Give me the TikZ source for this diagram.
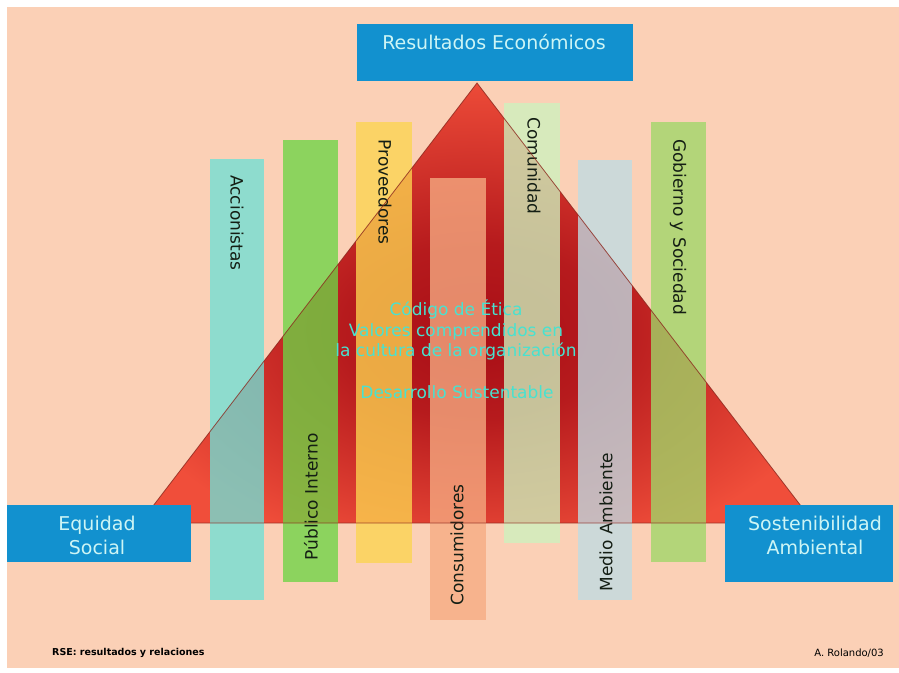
\documentclass[tikz,border=0pt]{standalone}
\usepackage{fontspec}
\setmainfont{DejaVu Sans}
\usepackage{tikz}
\usetikzlibrary{positioning,backgrounds}
\definecolor{peach}{RGB}{251,208,182}
\definecolor{boxblue}{RGB}{18,145,207}
\definecolor{boxtxt}{RGB}{205,245,245}
\definecolor{trired}{RGB}{240,78,58}
\definecolor{tridark}{RGB}{168,14,22}
\definecolor{triedge}{RGB}{140,40,30}
\definecolor{ethcyan}{RGB}{72,226,208}
\definecolor{labeldark}{RGB}{20,30,20}
\definecolor{accioncol}{RGB}{112,224,214}
\definecolor{internocol}{RGB}{110,212,70}
\definecolor{provcol}{RGB}{252,212,80}
\definecolor{consumcol}{RGB}{246,172,130}
\definecolor{comuncol}{RGB}{205,242,190}
\definecolor{medioamcol}{RGB}{192,220,228}
\definecolor{gobiernocol}{RGB}{160,215,105}

\pgfdeclareradialshading{tricore}{\pgfpoint{0bp}{-4bp}}{color(0bp)=(tridark); color(10bp)=(tridark!80!trired); color(28bp)=(trired); color(50bp)=(trired)}

\begin{document}
\begin{tikzpicture}[x=1pt, y=-1pt,
    bluebox/.style={fill=boxblue, inner sep=0pt},
    boxlabel/.style={text=boxtxt, align=center, inner sep=0pt, font=\fontsize{19}{24}\selectfont},
    bar/.style={fill opacity=0.78},
    barlabel/.style={text=labeldark, inner sep=0pt, font=\fontsize{17}{20}\selectfont},
    ethtext/.style={text=ethcyan, align=center, inner sep=0pt, font=\fontsize{17}{20.5}\selectfont}]

% ==================== BACKGROUND ====================
\fill[white] (0,0) rectangle (899,672);
\fill[peach] (7,7) rectangle (899,668);
\useasboundingbox (0,0) rectangle (899,672);

% ==================== TRIANGLE ====================
\coordinate (apex) at (477,83);
\coordinate (baseL) at (140,523);
\coordinate (baseR) at (814,523);
\shade[shading=tricore] (apex) -- (baseL) -- (baseR) -- cycle;

% ==================== STAKEHOLDER BARS ====================

% Accionistas
\fill[bar, accioncol] (210,159) rectangle (264,600);
\node[barlabel, rotate=-90] (accion) at (237,223) {Accionistas};

% Publico Interno
\fill[bar, internocol] (283,140) rectangle (338,582);
\node[barlabel, rotate=90] (interno) at (311,497) {Público Interno};

% Proveedores
\fill[bar, provcol] (356,122) rectangle (412,563);
\node[barlabel, rotate=-90] (prov) at (385,192) {Proveedores};

% Consumidores
\fill[bar, consumcol] (430,178) rectangle (486,620);
\node[barlabel, rotate=90] (consum) at (457,545) {Consumidores};

% Comunidad
\fill[bar, comuncol] (504,103) rectangle (560,543);
\node[barlabel, rotate=-90] (comun) at (534,166) {Comunidad};

% Medio Ambiente
\fill[bar, medioamcol] (578,160) rectangle (632,600);
\node[barlabel, rotate=90] (medioam) at (606,522) {Medio Ambiente};

% Gobierno y Sociedad
\fill[bar, gobiernocol] (651,122) rectangle (706,562);
\node[barlabel, rotate=-90] (gobierno) at (678,227) {Gobierno y Sociedad};

% triangle outline over the bars
\draw[triedge, line width=0.8pt, draw opacity=0.8] (apex) -- (baseL) -- (baseR) -- cycle;

% ==================== CENTRE TEXT ====================
\node[ethtext] (etica) at (456,330) {Código de Ética\\Valores comprendidos en\\la cultura de la organización};
\node[ethtext] (desarrollo) at (457,392) {Desarrollo Sustentable};

% ==================== CORNER BOXES ====================
\node[bluebox, minimum width=276, minimum height=57] (resEco) at (495,52.5) {};
\node[boxlabel] (resEcoTxt) at (494,42) {Resultados Económicos};

\node[bluebox, minimum width=184, minimum height=57] (equidad) at (99,533.5) {};
\node[boxlabel] (equidadTxt) at (97,535) {Equidad\\Social};

\node[bluebox, minimum width=168, minimum height=77] (sosten) at (809,543.5) {};
\node[boxlabel] (sostenTxt) at (815,535) {Sostenibilidad\\Ambiental};

% ==================== FOOTER ====================
\node[anchor=west, inner sep=0pt, font=\bfseries\fontsize{9.5}{11}\selectfont] (rse) at (52,653) {RSE: resultados y relaciones};
\node[anchor=east, inner sep=0pt, font=\fontsize{10}{12}\selectfont] (autor) at (884,653) {A. Rolando/03};

\end{tikzpicture}
\end{document}
